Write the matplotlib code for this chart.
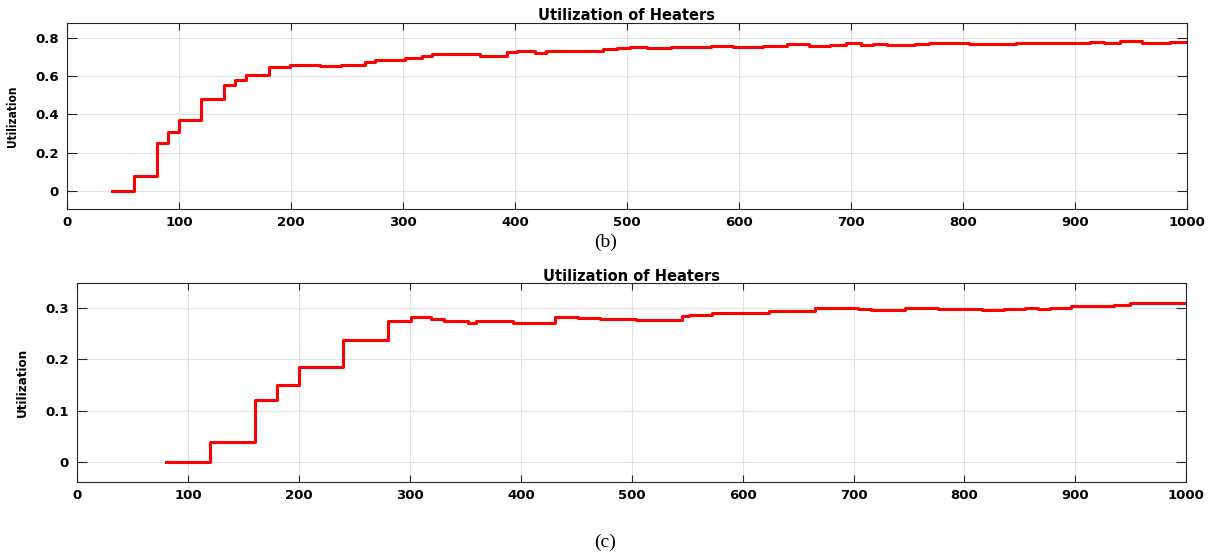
import matplotlib.pyplot as plt

# step start times and utilization values
heat_b_t = [40, 60, 80, 90, 100, 120, 140, 150, 160, 180, 199, 226, 245, 266, 275,
            302, 317, 326, 369, 393, 402, 418, 428, 443, 458, 479, 491, 503, 518,
            539, 575, 595, 622, 643, 663, 681, 696, 709, 720, 732, 757, 770, 782,
            806, 848, 866, 884, 914, 926, 940, 960, 985]
heat_b_u = [0, 0.08, 0.249, 0.305, 0.371, 0.479, 0.554, 0.580, 0.607, 0.647, 0.659,
            0.650, 0.659, 0.671, 0.683, 0.692, 0.704, 0.715, 0.707, 0.725, 0.730,
            0.722, 0.733, 0.728, 0.733, 0.740, 0.745, 0.752, 0.747, 0.750, 0.759,
            0.752, 0.759, 0.765, 0.757, 0.764, 0.771, 0.764, 0.767, 0.762, 0.767,
            0.771, 0.774, 0.769, 0.771, 0.774, 0.771, 0.778, 0.774, 0.781, 0.774, 0.778]
heat_b_end = 999

heat_c_t = [80, 120, 160, 180, 200, 240, 280, 301, 319, 331, 352, 360, 393, 431,
            452, 471, 504, 545, 552, 572, 585, 624, 665, 704, 716, 746, 776, 787,
            816, 836, 855, 866, 877, 896, 935, 949, 958]
heat_c_u = [0, 0.040, 0.122, 0.151, 0.186, 0.237, 0.275, 0.282, 0.279, 0.274, 0.2715,
            0.274, 0.2715, 0.282, 0.2806, 0.279, 0.2767, 0.2845, 0.287, 0.290, 0.2896,
            0.295, 0.300, 0.2974, 0.296, 0.300, 0.2974, 0.298, 0.296, 0.298, 0.2994,
            0.2974, 0.2994, 0.3039, 0.3065, 0.309, 0.3104]
heat_c_end = 998

x_ticks = [0, 100, 200, 300, 400, 500, 600, 700, 800, 900, 1000]
b_yticks = [0, 0.2, 0.4, 0.6, 0.8]
b_ylabels = ['0', '0.2', '0.4', '0.6', '0.8']
c_yticks = [0, 0.1, 0.2, 0.3]
c_ylabels = ['0', '0.1', '0.2', '0.3']


def style_axis(ax, yticks, ylabels, ylim, label_size):
    ax.set_xlim(0, 1000)
    ax.set_ylim(*ylim)
    ax.set_xticks(x_ticks)
    ax.set_xticklabels([str(v) for v in x_ticks], fontsize=9.5, fontweight='bold')
    ax.set_yticks(yticks)
    ax.set_yticklabels(ylabels, fontsize=9.5, fontweight='bold')
    ax.tick_params(axis='x', direction='in', top=True, length=5, width=0.8,
                   color='#262626', pad=5)
    ax.tick_params(axis='y', direction='in', right=True, length=7, width=0.8,
                   color='#262626', pad=6)
    ax.grid(True, color='#e3e3e3', linewidth=0.8)
    ax.set_axisbelow(True)
    for sp in ax.spines.values():
        sp.set_color('#262626')
        sp.set_linewidth(0.8)
    ax.set_title('Utilization of Heaters', fontsize=10.5, fontweight='bold', pad=1.5)
    ax.set_ylabel('Utilization', fontsize=label_size, fontweight='bold',
                  fontstretch='condensed')


fig = plt.figure(figsize=(12.2, 5.56), dpi=100)

ax1 = fig.add_axes([0.0549, 0.6236, 0.9178, 0.3358])
ax1.step(heat_b_t + [heat_b_end], heat_b_u + [heat_b_u[-1]], where='post',
         color='#ff0000', linewidth=2.2)
style_axis(ax1, b_yticks, b_ylabels, (-0.096, 0.879), 8.5)
ax1.yaxis.set_label_coords(-0.043, 0.5)

ax2 = fig.add_axes([0.0633, 0.1326, 0.9090, 0.3585])
ax2.step(heat_c_t + [heat_c_end], heat_c_u + [heat_c_u[-1]], where='post',
         color='#ff0000', linewidth=2.2)
style_axis(ax2, c_yticks, c_ylabels, (-0.039, 0.349), 9.5)
ax2.yaxis.set_label_coords(-0.044, 0.5)

fig.text(0.496, 0.564, '(b)', ha='center', va='center', fontsize=14,
         family='Liberation Serif')
fig.text(0.496, 0.025, '(c)', ha='center', va='center', fontsize=14,
         family='Liberation Serif')

fig.savefig('out.png', dpi=100)
plt.close(fig)
